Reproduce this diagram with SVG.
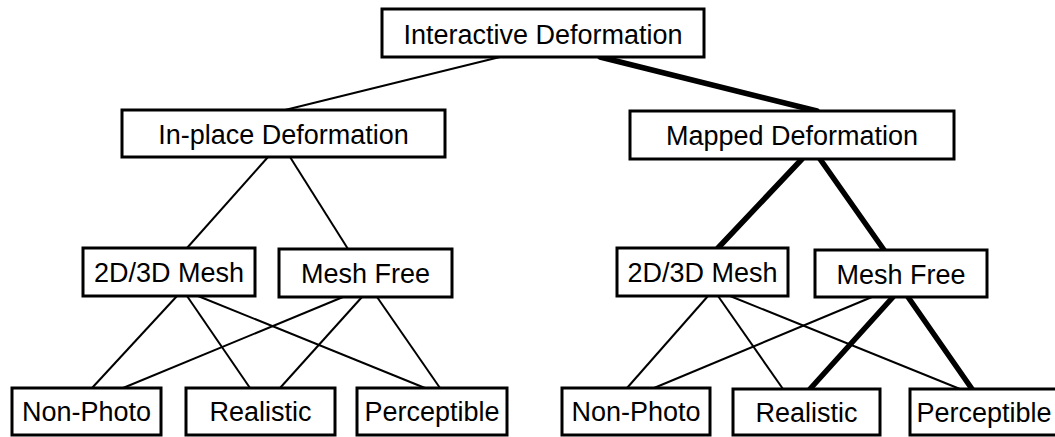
<svg xmlns="http://www.w3.org/2000/svg" width="1055" height="437" viewBox="0 0 1055 437">
<style>
.box{fill:#fff;stroke:#000;stroke-width:3}
.lbl{font-family:"Liberation Sans",Arial,sans-serif;font-size:27px;fill:#000;text-anchor:middle}
.thin{stroke:#000;stroke-width:2;fill:none}
.thick{stroke:#000;stroke-width:5.5;fill:none;stroke-linecap:round}
</style>
<rect width="1055" height="437" fill="#fff"/>
<g id="connectors">
<line class="thin" x1="500" y1="57" x2="285" y2="110"/>
<line class="thick" x1="600" y1="57" x2="817" y2="111"/>
<line class="thin" x1="268" y1="157" x2="187" y2="248"/>
<line class="thin" x1="290" y1="157" x2="348" y2="249"/>
<line class="thin" x1="177" y1="296" x2="92" y2="388"/>
<line class="thin" x1="187" y1="296" x2="250" y2="388"/>
<line class="thin" x1="198" y1="296" x2="425" y2="388"/>
<line class="thin" x1="343" y1="297" x2="123" y2="388"/>
<line class="thin" x1="362" y1="297" x2="280" y2="388"/>
<line class="thin" x1="377" y1="297" x2="440" y2="388"/>
<line class="thick" x1="802" y1="159" x2="718" y2="248"/>
<line class="thick" x1="820" y1="159" x2="884" y2="250"/>
<line class="thin" x1="708" y1="296" x2="627" y2="388"/>
<line class="thin" x1="718" y1="296" x2="783" y2="389"/>
<line class="thin" x1="730" y1="296" x2="960" y2="389"/>
<line class="thin" x1="872" y1="297" x2="654" y2="388"/>
<line class="thick" x1="893" y1="297" x2="810" y2="389"/>
<line class="thick" x1="908" y1="297" x2="972" y2="389"/>
</g>
<g id="interactive"><rect class="box" x="382" y="9" width="322" height="48"/><text class="lbl" x="543" y="44">Interactive Deformation</text></g>
<g id="inplace"><rect class="box" x="122" y="110" width="323" height="47"/><text class="lbl" x="283.5" y="144">In-place Deformation</text></g>
<g id="mapped"><rect class="box" x="630" y="111" width="324" height="48"/><text class="lbl" x="792" y="145">Mapped Deformation</text></g>
<g id="l-mesh"><rect class="box" x="83" y="248" width="172" height="48"/><text class="lbl" x="169" y="282">2D/3D Mesh</text></g>
<g id="l-meshfree"><rect class="box" x="279" y="249" width="173" height="48"/><text class="lbl" x="365.5" y="283">Mesh Free</text></g>
<g id="l-nonphoto"><rect class="box" x="12" y="388" width="149" height="47"/><text class="lbl" x="86.5" y="421">Non-Photo</text></g>
<g id="l-realistic"><rect class="box" x="186" y="388" width="149" height="47"/><text class="lbl" x="260.5" y="421">Realistic</text></g>
<g id="l-perceptible"><rect class="box" x="357" y="388" width="150" height="47"/><text class="lbl" x="432" y="421">Perceptible</text></g>
<g id="r-mesh"><rect class="box" x="617" y="248" width="171" height="48"/><text class="lbl" x="702.5" y="282">2D/3D Mesh</text></g>
<g id="r-meshfree"><rect class="box" x="815" y="250" width="172" height="47"/><text class="lbl" x="901" y="284">Mesh Free</text></g>
<g id="r-nonphoto"><rect class="box" x="562" y="388" width="148" height="47"/><text class="lbl" x="636" y="421">Non-Photo</text></g>
<g id="r-realistic"><rect class="box" x="733" y="389" width="147" height="46"/><text class="lbl" x="806.5" y="422">Realistic</text></g>
<g id="r-perceptible"><rect class="box" x="910" y="389" width="149" height="46"/><text class="lbl" x="984" y="422">Perceptible</text></g>
</svg>
